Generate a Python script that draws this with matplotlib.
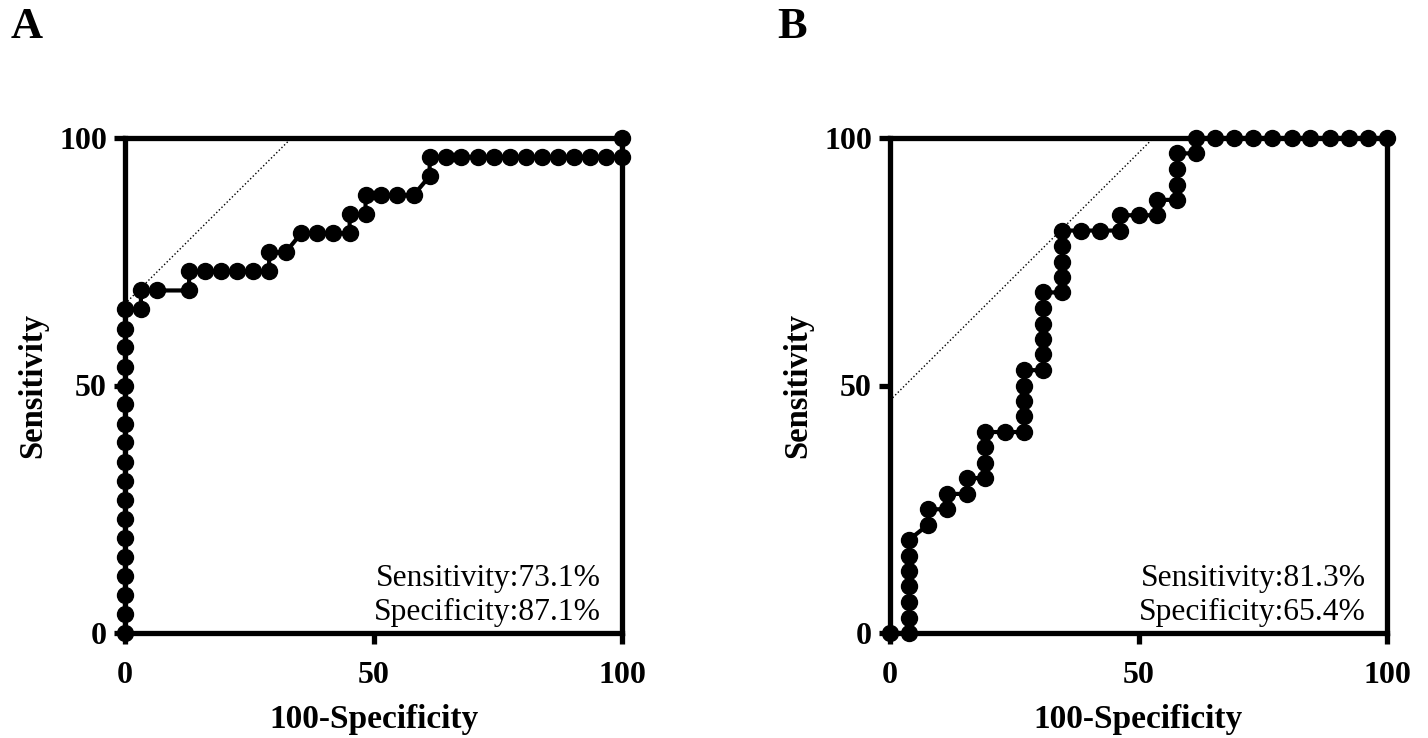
import matplotlib
matplotlib.use("Agg")
import matplotlib.pyplot as plt

plt.rcParams['font.family'] = ['Liberation Serif', 'DejaVu Serif']

# Panel A: ROC points (100-Specificity, Sensitivity), in percent
a_fpr = [0, 0, 0, 0, 0, 0, 0, 0, 0, 0, 0, 0, 0, 0, 0, 0, 0, 0,
         3.2, 3.2, 6.5, 12.9, 12.9,
         16.1, 19.4, 22.6, 25.8, 29.0,
         29.0, 32.3, 35.5, 38.7, 41.9, 45.2, 45.2, 48.4, 48.4,
         51.6, 54.8, 58.1, 61.3, 61.3,
         64.5, 67.7, 71.0, 74.2, 77.4, 80.6, 83.9, 87.1, 90.3, 93.5, 96.8, 100,
         100]
a_tpr = [0, 3.8, 7.7, 11.5, 15.4, 19.2, 23.1, 26.9, 30.8, 34.6, 38.5, 42.3,
         46.2, 50.0, 53.8, 57.7, 61.5, 65.4,
         65.4, 69.2, 69.2, 69.2, 73.1,
         73.1, 73.1, 73.1, 73.1, 73.1,
         76.9, 76.9, 80.8, 80.8, 80.8, 80.8, 84.6, 84.6, 88.5,
         88.5, 88.5, 88.5, 92.3, 96.2,
         96.2, 96.2, 96.2, 96.2, 96.2, 96.2, 96.2, 96.2, 96.2, 96.2, 96.2, 96.2,
         100]

# Panel B
b_fpr = [0, 3.8, 3.8, 3.8, 3.8, 3.8, 3.8, 3.8,
         7.7, 7.7, 11.5, 11.5, 15.4, 15.4,
         19.2, 19.2, 19.2, 19.2, 23.1,
         26.9, 26.9, 26.9, 26.9, 26.9,
         30.8, 30.8, 30.8, 30.8, 30.8, 30.8,
         34.6, 34.6, 34.6, 34.6, 34.6,
         38.5, 42.3, 46.2, 46.2, 50.0, 53.8, 53.8,
         57.7, 57.7, 57.7, 57.7, 61.5, 61.5,
         65.4, 69.2, 73.1, 76.9, 80.8, 84.6, 88.5, 92.3, 96.2, 100]
b_tpr = [0, 0, 3.1, 6.3, 9.4, 12.5, 15.6, 18.8,
         21.9, 25.0, 25.0, 28.1, 28.1, 31.3,
         31.3, 34.4, 37.5, 40.6, 40.6,
         40.6, 43.8, 46.9, 50.0, 53.1,
         53.1, 56.3, 59.4, 62.5, 65.6, 68.8,
         68.8, 71.9, 75.0, 78.1, 81.3,
         81.3, 81.3, 81.3, 84.4, 84.4, 84.4, 87.5,
         87.5, 90.6, 93.8, 96.9, 96.9, 100,
         100, 100, 100, 100, 100, 100, 100, 100, 100, 100]

# dotted reference lines
a_ref_x = [0, 33.5]
a_ref_y = [66.5, 100]
b_ref_x = [0, 53]
b_ref_y = [47, 100]

panels = [
    ("A", a_fpr, a_tpr, a_ref_x, a_ref_y, ["Sensitivity:73.1%", "Specificity:87.1%"]),
    ("B", b_fpr, b_tpr, b_ref_x, b_ref_y, ["Sensitivity:81.3%", "Specificity:65.4%"]),
]
ticks = [0, 50, 100]

W, H = 1428, 738
fig = plt.figure(figsize=(W / 100, H / 100), dpi=100)

lefts = [125, 890]
for (letter, fx, ty, rx, ry, notes), left in zip(panels, lefts):
    ax = fig.add_axes([left / W, (H - 633) / H, 497 / W, 495 / H])
    ax.plot(rx, ry, color='black', linestyle=':', linewidth=1.0, zorder=2)
    ax.plot(fx, ty, color='black', linewidth=3, marker='o', markersize=11.5,
            clip_on=False, zorder=5)
    ax.set_xlim(0, 100)
    ax.set_ylim(0, 100)
    ax.set_xticks(ticks)
    ax.set_yticks(ticks)
    for sp in ax.spines.values():
        sp.set_linewidth(3.8)
    ax.tick_params(direction='out', length=8, width=3.8, labelsize=23)
    ax.tick_params(axis='x', pad=12)
    ax.tick_params(axis='y', pad=5)
    for lab in ax.get_xticklabels() + ax.get_yticklabels():
        lab.set_fontweight('bold')
    ax.set_xlabel("100-Specificity", fontsize=24, fontweight='bold', labelpad=10)
    ax.set_ylabel("Sensitivity", fontsize=23.5, fontweight='bold', labelpad=8)
    ax.text(0.958, 0.11, notes[0], transform=ax.transAxes, ha='right',
            va='center', fontsize=22.7)
    ax.text(0.958, 0.042, notes[1], transform=ax.transAxes, ha='right',
            va='center', fontsize=22.7)
    fig.text((left - 98) / W, 1 - 27 / H, letter, fontsize=32,
             fontweight='bold', ha='center', va='center')

fig.savefig("out.png", dpi=100, facecolor='white')
